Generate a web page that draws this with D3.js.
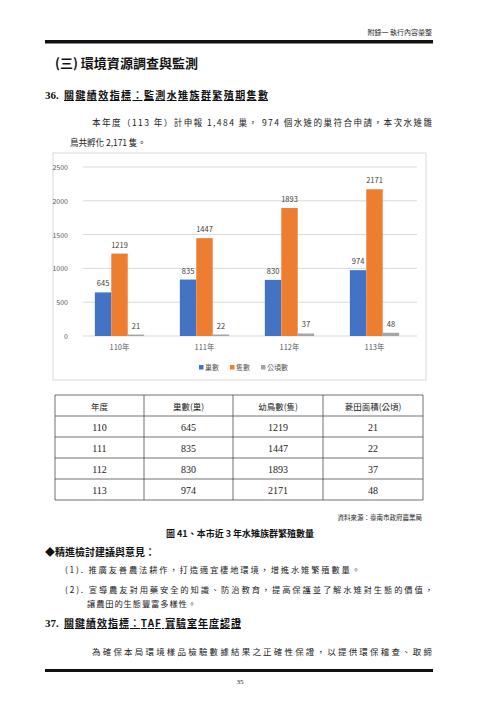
<!DOCTYPE html>
<html><head><meta charset="utf-8">
<script src="https://cdn.jsdelivr.net/npm/d3@7"></script>
<style>body{margin:0;background:#fff}svg{display:block}</style>
</head><body>
<script>
const years = ["110年","111年","112年","113年"];
const tableYears = ["110","111","112","113"];
const seriesNames = ["巢數","隻數","公頃數"];
const nests = [645,835,830,974];
const chicks = [1219,1447,1893,2171];
const hectares = [21,22,37,48];
const yTicks = [0,500,1000,1500,2000,2500];
const tableHeader = ["年度","巢數(巢)","幼鳥數(隻)","菱田面積(公頃)"];
const colors = ["#4472C4","#ED7D31","#A5A5A5"];
const series = [nests, chicks, hectares];

const W=479,H=707;
const svg=d3.select("body").append("svg").attr("width",W).attr("height",H);
const cjk="'Noto Sans CJK TC','Noto Sans CJK SC',sans-serif";
const serif="'Liberation Serif','DejaVu Serif',serif";
function txt(x,y,s,o={}){const t=svg.append("text").attr("x",x).attr("y",y).text(s)
 .attr("font-family",o.f||cjk).attr("font-size",o.size||9).attr("fill",o.fill||"#222")
 .attr("text-anchor",o.a||"start").attr("font-weight",o.w||"normal");
 if(o.u) t.attr("text-decoration","underline");
 if(o.len) t.attr("textLength",o.len).attr("lengthAdjust","spacing");
 return t;}

// header
txt(432,35,"附錄一  執行內容彙整",{size:7,a:"end"});
svg.append("rect").attr("x",45).attr("y",40).attr("width",388).attr("height",3.5).attr("fill","#111");
txt(55,68,"(三) 環境資源調查與監測",{size:13,w:"bold",fill:"#111",len:143});
txt(45,99,"36. ",{size:11,w:"bold",f:serif,fill:"#111"});
txt(64,99,"關鍵績效指標：監測水雉族群繁殖期隻數",{size:10,w:"bold",u:true,fill:"#111",len:204});
txt(92,126,"本年度（113 年）計申報 1,484 巢， 974 個水雉的巢符合申請，本次水雉雛",{size:8.6,len:340});
txt(70,146,"鳥共孵化 2,171 隻。",{size:8.6,len:76});

// chart frame
svg.append("rect").attr("x",53).attr("y",153).attr("width",373).attr("height",227)
 .attr("fill","#fff").attr("stroke","#d9d9d9");
const x0=d3.scaleBand().domain(years).range([77,417]).paddingInner(0.42).paddingOuter(0.21);
const x1=d3.scaleBand().domain(seriesNames).range([0,x0.bandwidth()]);
const y=d3.scaleLinear().domain([0,2500]).range([336,167]);
const g=svg.append("g");
g.selectAll("line.grid").data(yTicks).join("line").attr("x1",83).attr("x2",417)
 .attr("y1",d=>y(d)).attr("y2",d=>y(d)).attr("stroke","#d9d9d9");
g.selectAll("text.yt").data(yTicks).join("text").attr("x",68).attr("y",d=>y(d)+3)
 .attr("text-anchor","end").attr("font-size",7).attr("fill","#595959").attr("font-family",cjk).text(d=>d);
series.forEach((vals,si)=>{
  g.selectAll("rect.s"+si).data(vals).join("rect")
   .attr("x",(d,i)=>x0(years[i])+x1(seriesNames[si])).attr("width",x1.bandwidth())
   .attr("y",d=>y(d)).attr("height",d=>336-y(d)).attr("fill",colors[si]);
  g.selectAll("text.l"+si).data(vals).join("text")
   .attr("x",(d,i)=>x0(years[i])+x1(seriesNames[si])+x1.bandwidth()/2)
   .attr("y",d=>y(d)-6).attr("text-anchor","middle").attr("font-size",7.5)
   .attr("fill","#404040").attr("font-family",cjk).text(d=>d);
});
g.selectAll("text.xc").data(years).join("text").attr("x",d=>x0(d)+x0.bandwidth()/2).attr("y",350)
 .attr("text-anchor","middle").attr("font-size",7.5).attr("fill","#595959").attr("font-family",cjk).text(d=>d);
seriesNames.forEach((n,i)=>{
  const lx=[199,230,261][i];
  g.append("rect").attr("x",lx).attr("y",365).attr("width",4.5).attr("height",4.5).attr("fill",colors[i]);
  g.append("text").attr("x",lx+6).attr("y",370).attr("font-size",7).attr("fill","#595959").attr("font-family",cjk).text(n);
});

// table
const cols=[55,144,233,323,423], rows=[395,416,437,458,479,500];
const tg=svg.append("g");
rows.forEach(r=>tg.append("line").attr("x1",55).attr("x2",423).attr("y1",r).attr("y2",r).attr("stroke","#333").attr("stroke-width",0.7));
cols.forEach(c=>tg.append("line").attr("x1",c).attr("x2",c).attr("y1",395).attr("y2",500).attr("stroke","#333").attr("stroke-width",0.7));
const tableRows=[tableHeader].concat(tableYears.map((yy,i)=>[yy,nests[i],chicks[i],hectares[i]]));
tableRows.forEach((row,ri)=>row.forEach((v,ci)=>{
  txt((cols[ci]+cols[ci+1])/2,rows[ri]+14.5,v,{a:"middle",size:ri==0?8.5:10,f:ri==0?cjk:serif,fill:"#222"});
}));
txt(422,520,"資料來源：臺南市政府農業局",{size:6.5,a:"end"});
txt(240,537,"圖 41、本市近 3 年水雉族群繁殖數量",{size:9,a:"middle",w:"bold",fill:"#111"});

txt(45,556,"◆精進檢討建議與意見：",{size:10,w:"bold",fill:"#111"});
txt(65,573,"(1). 推廣友善農法耕作，打造適宜棲地環境，增進水雉繁殖數量。",{size:8.3,len:295});
txt(65,593,"(2). 宣導農友對用藥安全的知識、防治教育，提高保護並了解水雉對生態的價值，",{size:8.3,len:368});
txt(87,607,"讓農田的生態豐富多樣性。",{size:8.3,len:109});
txt(45,627,"37. ",{size:11,w:"bold",f:serif,fill:"#111"});
txt(64,627,"關鍵績效指標：TAF 實驗室年度認證",{size:10,w:"bold",u:true,fill:"#111",len:177});
txt(92,655,"為確保本局環境樣品檢驗數據結果之正確性保證，以提供環保稽查、取締",{size:8.5,len:340});
svg.append("rect").attr("x",45).attr("y",669).attr("width",388).attr("height",3).attr("fill","#111");
txt(240,684,"35",{size:7,a:"middle",f:serif});
</script>
</body></html>
